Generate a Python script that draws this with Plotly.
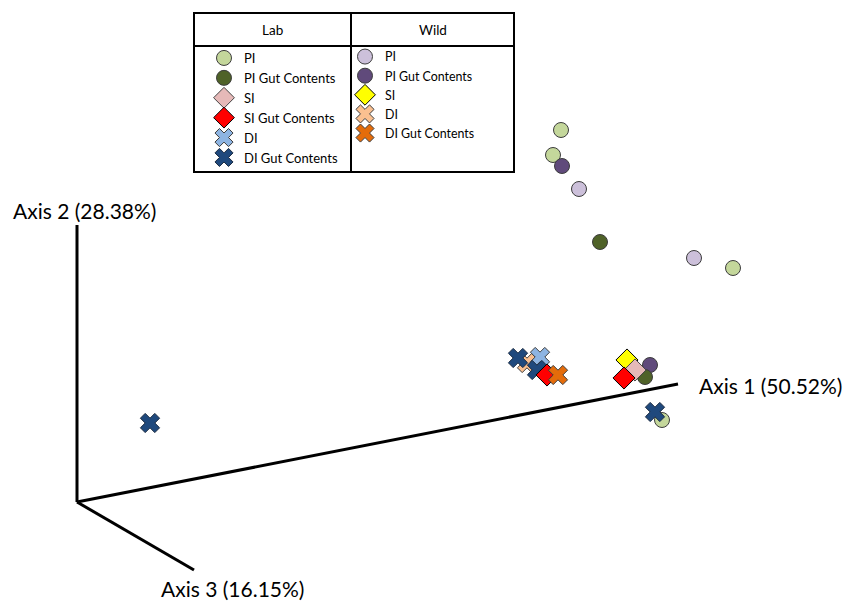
import plotly.graph_objects as go

# projected PCoA coordinates (in figure-pixel units)
lab_pi_x = [561, 553, 733, 662]
lab_pi_y = [130, 155, 268, 420]
lab_pig_x = [600, 645]
lab_pig_y = [242, 377]
lab_si_x = [635]
lab_si_y = [370]
lab_sig_x = [547, 624]
lab_sig_y = [375, 378]
lab_di_x = [540]
lab_di_y = [357]
lab_dig_x = [518, 537, 655, 150]
lab_dig_y = [358, 370, 412, 423]
wild_pi_x = [579, 694]
wild_pi_y = [189, 258]
wild_pig_x = [562, 650]
wild_pig_y = [166, 365]
wild_si_x = [627]
wild_si_y = [360]
wild_di_x = [527]
wild_di_y = [363]
wild_dig_x = [558]
wild_dig_y = [375]

axis_labels = ["Axis 1 (50.52%)", "Axis 2 (28.38%)", "Axis 3 (16.15%)"]
group_titles = ["Lab", "Wild"]

# page has an 8px body margin; figure covers screen 8..859 x 8..603
OFF = 8
W, H = 859 - OFF, 603 - OFF
def px(x):
    return (x - OFF) / W
def py(y):
    return 1 - (y - OFF) / H

FAM = "Lato, Open Sans, sans-serif"
fig = go.Figure()

def add(name, xs, ys, color, symbol, legend, size, lc="#3c3c3c"):
    fig.add_trace(go.Scatter(
        x=xs, y=ys, mode="markers", name=name, legend=legend,
        marker=dict(color=color, symbol=symbol, size=size,
                    line=dict(color=lc, width=1))))

# drawing order (bottom to top)
add("PI", lab_pi_x, lab_pi_y, "#C4D79B", "circle", "legend", 15)
add("PI", wild_pi_x, wild_pi_y, "#CCC0DA", "circle", "legend2", 15)
add("PI Gut Contents", wild_pig_x, wild_pig_y, "#604A7B", "circle", "legend2", 15)
add("PI Gut Contents", lab_pig_x, lab_pig_y, "#4F6228", "circle", "legend", 15)
add("SI", wild_si_x, wild_si_y, "#FFFF00", "diamond", "legend2", 17, "#000000")
add("DI", wild_di_x, wild_di_y, "#FAC090", "x", "legend2", 17)
add("DI", lab_di_x, lab_di_y, "#8DB4E2", "x", "legend", 17)
add("DI Gut Contents", lab_dig_x, lab_dig_y, "#1F497D", "x", "legend", 17, "#1a2a40")
add("SI", lab_si_x, lab_si_y, "#E6B9B8", "diamond", "legend", 17, "#444444")
add("SI Gut Contents", lab_sig_x, lab_sig_y, "#FF0000", "diamond", "legend", 17, "#000000")
add("DI Gut Contents", wild_dig_x, wild_dig_y, "#E46C0A", "x", "legend2", 17)

rank = {("legend", "PI"): 1, ("legend", "PI Gut Contents"): 2, ("legend", "SI"): 3,
        ("legend", "SI Gut Contents"): 4, ("legend", "DI"): 5, ("legend", "DI Gut Contents"): 6,
        ("legend2", "PI"): 1, ("legend2", "PI Gut Contents"): 2, ("legend2", "SI"): 3,
        ("legend2", "DI"): 4, ("legend2", "DI Gut Contents"): 5}
for tr in fig.data:
    tr.legendrank = rank[(tr.legend, tr.name)]

# pseudo-3D axes
ox, oy = 77, 502
axes_lines = [(ox, oy, 678, 384), (ox, oy, ox, 225), (ox, oy, 194, 570)]
for x0, y0, x1, y1 in axes_lines:
    fig.add_shape(type="line", x0=x0, y0=y0, x1=x1, y1=y1, xref="x", yref="y",
                  line=dict(color="black", width=3), layer="below")

font_axis = dict(family=FAM, size=21, color="black")
fig.add_annotation(x=697, y=385, text=axis_labels[0], xanchor="left", yanchor="middle",
                   showarrow=False, font=font_axis, xref="x", yref="y")
fig.add_annotation(x=11, y=210, text=axis_labels[1], xanchor="left", yanchor="middle",
                   showarrow=False, font=font_axis, xref="x", yref="y")
fig.add_annotation(x=159, y=588, text=axis_labels[2], xanchor="left", yanchor="middle",
                   showarrow=False, font=font_axis, xref="x", yref="y")

# legend table frame
bx0, by0, bx1, by1, bmid, bhead = 194, 13, 514, 172, 351, 46
fig.add_shape(type="rect", x0=bx0, y0=by0, x1=bx1, y1=by1, xref="x", yref="y",
              line=dict(color="black", width=2), fillcolor="rgba(0,0,0,0)")
fig.add_shape(type="line", x0=bmid, y0=by0, x1=bmid, y1=by1, xref="x", yref="y",
              line=dict(color="black", width=2))
fig.add_shape(type="line", x0=bx0, y0=bhead, x1=bx1, y1=bhead, xref="x", yref="y",
              line=dict(color="black", width=2))
font_hdr = dict(family=FAM, size=13.5, color="black")
fig.add_annotation(x=(bx0 + bmid) / 2, y=30, text=group_titles[0], showarrow=False,
                   font=font_hdr, xref="x", yref="y")
fig.add_annotation(x=(bmid + bx1) / 2, y=30, text=group_titles[1], showarrow=False,
                   font=font_hdr, xref="x", yref="y")

leg_common = dict(bgcolor="rgba(0,0,0,0)", borderwidth=0,
                  xanchor="left", yanchor="top", itemclick=False,
                  tracegroupgap=0, traceorder="normal")
fig.update_layout(
    width=W, height=H, margin=dict(l=0, r=0, t=0, b=0),
    paper_bgcolor="white", plot_bgcolor="white",
    xaxis=dict(range=[OFF, 859], visible=False, fixedrange=True),
    yaxis=dict(range=[603, OFF], visible=False, fixedrange=True),
    showlegend=True,
    legend=dict(x=px(204), y=py(43), font=dict(family=FAM, size=13, color="black"),
                **leg_common),
    legend2=dict(x=px(345), y=py(42), font=dict(family=FAM, size=12.4, color="black"),
                 **leg_common),
)
fig.write_html("out.html")
